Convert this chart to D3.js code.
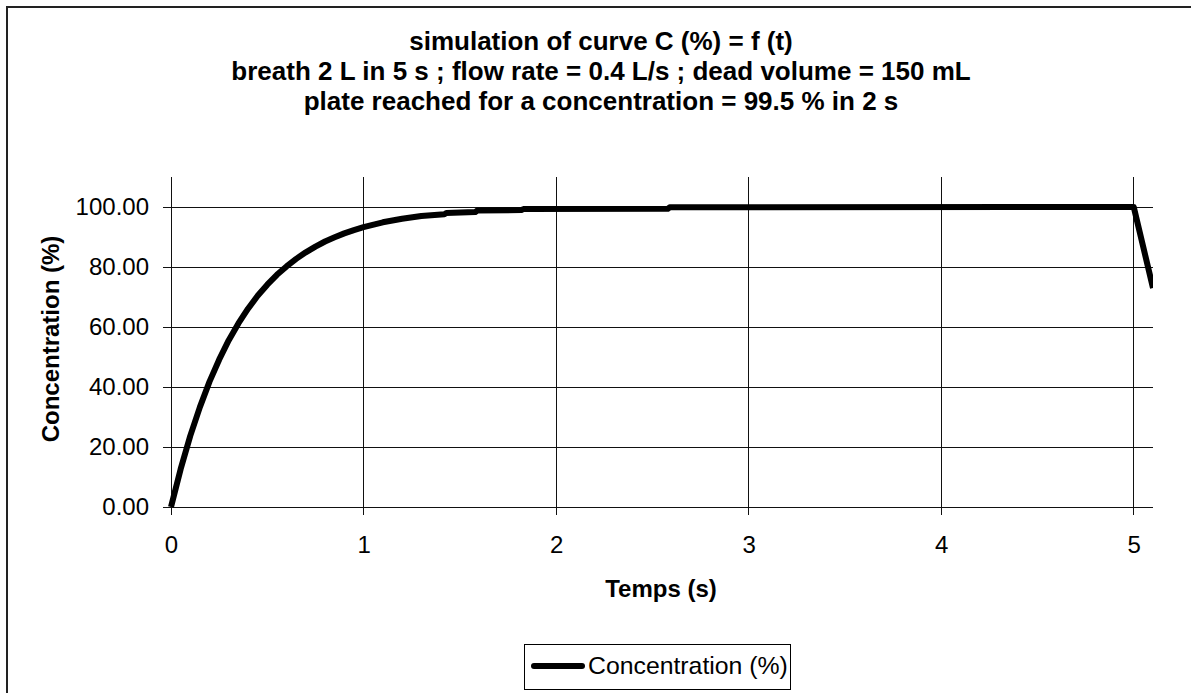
<!DOCTYPE html>
<html>
<head>
<meta charset="utf-8">
<script src="https://cdn.jsdelivr.net/npm/d3@7"></script>
<style>
  html, body { margin: 0; padding: 0; background: #fff; }
  svg { display: block; font-family: "Liberation Sans", Arial, sans-serif; }
</style>
</head>
<body>
<svg id="chart" width="1191" height="693"></svg>
<script>
// ---- data ----
const titleLines = [
  "simulation of curve C (%) = f (t)",
  "breath 2 L in 5 s ; flow rate = 0.4 L/s ; dead volume = 150 mL",
  "plate reached for a concentration = 99.5 % in 2 s"
];
const xTicks = [0, 1, 2, 3, 4, 5];
const yTicks = [0, 20, 40, 60, 80, 100];
const timeS = [0, 0.05, 0.1, 0.15, 0.2, 0.25, 0.3, 0.35, 0.4, 0.45, 0.5, 0.55, 0.6, 0.65, 0.7, 0.75, 0.8, 0.85, 0.9, 0.95, 1.0, 1.1, 1.2, 1.3, 1.42, 1.43, 1.58, 1.59, 1.82, 1.83, 2.58, 2.59, 5.0, 5.1];
const concentration = [0, 12.6, 23.7, 33.3, 41.8, 49.1, 55.6, 61.2, 66.1, 70.4, 74.1, 77.4, 80.2, 82.7, 84.9, 86.8, 88.5, 89.9, 91.2, 92.3, 93.3, 94.9, 96.1, 97.0, 97.6, 98.0, 98.3, 98.8, 99.0, 99.3, 99.4, 99.9, 100, 73];
const seriesName = "Concentration (%)";
const xLabel = "Temps (s)";
const yLabel = "Concentration (%)";

// ---- layout ----
const svg = d3.select("#chart");
const plot = { left: 171, right: 1153, top: 177, bottom: 507 };
const x = d3.scaleLinear().domain([0, 5.1]).range([plot.left, plot.right]);
const y = d3.scaleLinear().domain([0, 110]).range([plot.bottom, plot.top]);

svg.append("rect").attr("width", 1191).attr("height", 693).attr("fill", "#fff");

// outer border (left + top only visible)
svg.append("path")
  .attr("d", "M7,700 L7,7 L1195,7")
  .attr("fill", "none").attr("stroke", "#222").attr("stroke-width", 2);

// title
svg.append("g").selectAll("text").data(titleLines).join("text")
  .attr("x", 601).attr("y", (d, i) => 50 + i * 30)
  .attr("text-anchor", "middle")
  .attr("font-size", 26).attr("font-weight", "bold")
  .attr("fill", "#000")
  .text(d => d);

// gridlines
const grid = svg.append("g").attr("shape-rendering", "crispEdges").attr("stroke", "#111").attr("stroke-width", 1);
grid.selectAll("line.h").data(yTicks).join("line").attr("class", "h")
  .attr("x1", plot.left - 8).attr("x2", plot.right)
  .attr("y1", d => y(d)).attr("y2", d => y(d));
grid.selectAll("line.v").data(xTicks).join("line").attr("class", "v")
  .attr("x1", d => x(d)).attr("x2", d => x(d))
  .attr("y1", plot.top).attr("y2", plot.bottom + 8);

// axes (labels)
const yAxis = svg.append("g")
  .attr("transform", `translate(${plot.left},0)`)
  .call(d3.axisLeft(y).tickValues(yTicks).tickFormat(d3.format(".2f")).tickSize(8).tickPadding(14));
const xAxis = svg.append("g")
  .attr("transform", `translate(0,${plot.bottom})`)
  .call(d3.axisBottom(x).tickValues(xTicks).tickFormat(d3.format("d")).tickSize(8).tickPadding(21));
[yAxis, xAxis].forEach(a => {
  a.select(".domain").remove();
  a.selectAll(".tick line").remove();
  a.selectAll("text").attr("font-size", 24).attr("font-family", "Liberation Sans, Arial, sans-serif").attr("fill", "#000");
});

// axis titles
svg.append("text")
  .attr("transform", "translate(59,339) rotate(-90)")
  .attr("text-anchor", "middle")
  .attr("font-size", 24).attr("font-weight", "bold")
  .text(yLabel);
svg.append("text")
  .attr("x", 661).attr("y", 597)
  .attr("text-anchor", "middle")
  .attr("font-size", 24).attr("font-weight", "bold")
  .text(xLabel);

// clip
svg.append("clipPath").attr("id", "clip").append("rect")
  .attr("x", plot.left - 5).attr("y", plot.top - 20)
  .attr("width", plot.right - plot.left + 5).attr("height", plot.bottom - plot.top + 30);

// series
const pts = timeS.map((t, i) => [t, concentration[i]]);
const line = d3.line().x(d => x(d[0])).y(d => y(d[1]));
svg.append("path")
  .datum(pts)
  .attr("clip-path", "url(#clip)")
  .attr("d", line)
  .attr("fill", "none").attr("stroke", "#000")
  .attr("stroke-width", 6).attr("stroke-linejoin", "round").attr("stroke-linecap", "butt");

// legend
const lg = svg.append("g");
lg.append("rect").attr("x", 524.5).attr("y", 644.5).attr("width", 266).attr("height", 45)
  .attr("fill", "#fff").attr("stroke", "#000").attr("stroke-width", 1);
lg.append("line").attr("x1", 534).attr("x2", 582).attr("y1", 666).attr("y2", 666)
  .attr("stroke", "#000").attr("stroke-width", 6).attr("stroke-linecap", "round");
lg.append("text").attr("x", 588).attr("y", 674)
  .attr("font-size", 24.8).attr("fill", "#000").text(seriesName);
</script>
</body>
</html>
